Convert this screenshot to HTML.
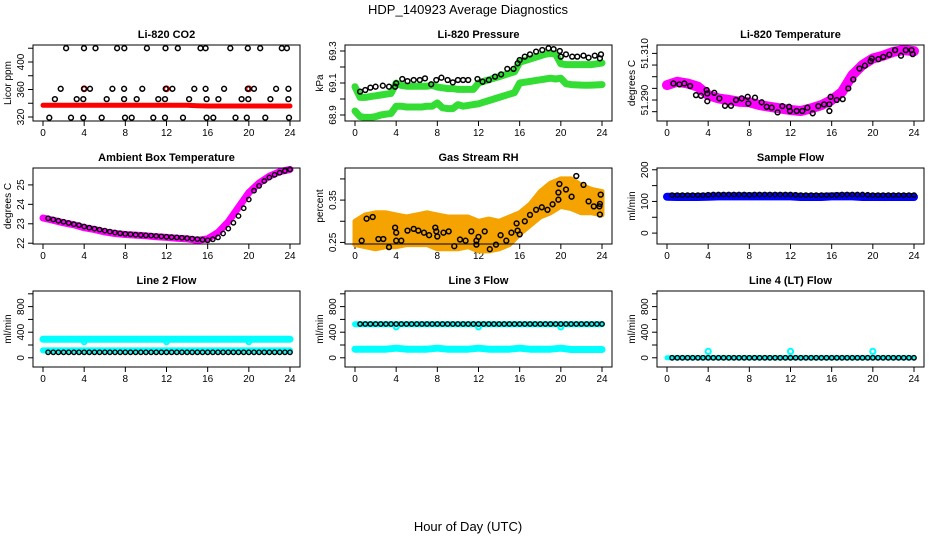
<!DOCTYPE html>
<html><head><meta charset="utf-8">
<style>
html,body{margin:0;padding:0;background:#fff;}
svg{display:block;font-family:"Liberation Sans",Arial,sans-serif;}
</style></head>
<body>
<svg id="chart" width="936" height="540" viewBox="0 0 936 540" xmlns="http://www.w3.org/2000/svg">
<text x="468" y="14" text-anchor="middle" font-size="13">HDP_140923  Average Diagnostics</text>
<text x="468" y="531" text-anchor="middle" font-size="13">Hour of Day (UTC)</text>
</svg>
<script>
// ---------- data ----------
const hourly=[0,1,2,3,4,5,6,7,8,9,10,11,12,13,14,15,16,17,18,19,20,21,22,23,24];
const halfHours=[0,0.5,1,1.5,2,2.5,3,3.5,4,4.5,5,5.5,6,6.5,7,7.5,8,8.5,9,9.5,10,10.5,11,11.5,12,12.5,13,13.5,14,14.5,15,15.5,16,16.5,17,17.5,18,18.5,19,19.5,20,20.5,21,21.5,22,22.5,23,23.5,24];
const meanHours=[0.5,1,1.5,2,2.5,3,3.5,4,4.5,5,5.5,6,6.5,7,7.5,8,8.5,9,9.5,10,10.5,11,11.5,12,12.5,13,13.5,14,14.5,15,15.5,16,16.5,17,17.5,18,18.5,19,19.5,20,20.5,21,21.5,22,22.5,23,23.5,24];
const xTicks=[0,4,8,12,16,20,24];

// CO2
const co2Red=[337,337,337,337,337,337,337,337,337,337,337,337,337,337,337,336.5,336,336,336,336,336,336,336,336,336];
const co2SpikeHours=[4,12,20];
const co2SpikeVals=[361,361,361];
const co2BlkHours=[2.24,3.98,5.1,7.2,7.9,10.1,11.9,13.1,15.3,15.8,18.2,19.9,21.1,23.2,23.7, 1.72,3.98,4.57,6.74,7.88,9.65,11.92,12.57,14.7,15.8,17.6,19.9,20.5,22.65,23.84, 1.16,3.27,3.92,6.19,7.88,9.1,11.2,11.85,14.2,15.9,17.04,19.3,19.95,22.1,23.84, 0.61,2.72,3.92,5.7,7.97,8.62,10.72,11.85,13.6,15.9,16.55,18.7,19.8,21.6,23.9];
const co2BlkVals=[420,420,420,420,420,420,420,420,420,420,420,420,420,420,420, 361,361,361,361,361,361,361,361,361,361,361,361,361,361,361, 346,346,346,346,346,346,346,346,346,346,346,346,346,346,346, 319,319,319,319,319,319,319,319,319,319,319,319,319,319,319];

// Pressure
const presUpper=[69.077,69.01,69.01,69.015,69.02,69.025,69.03,69.035,69.1,69.085,69.08,69.08,69.08,69.08,69.08,69.085,69.075,69.07,69.065,69.065,69.06,69.06,69.06,69.06,69.1,69.11,69.12,69.13,69.14,69.15,69.16,69.17,69.23,69.24,69.25,69.26,69.27,69.28,69.285,69.28,69.22,69.215,69.215,69.215,69.215,69.215,69.215,69.22,69.225];
const presLower=[68.925,68.89,68.885,68.885,68.89,68.9,68.905,68.91,68.955,68.955,68.95,68.95,68.95,68.95,68.955,68.955,68.975,68.945,68.94,68.94,68.965,68.955,68.96,68.965,68.97,68.98,68.99,69.0,69.01,69.02,69.03,69.04,69.1,69.105,69.11,69.115,69.12,69.125,69.13,69.125,69.13,69.095,69.09,69.088,69.087,69.086,69.087,69.088,69.09];
const presBlkHours=[0.5,1,1.5,2,2.7,3.3,3.9,4,4.6,5.1,5.7,6.3,6.8,7.4,7.9,8.4,9,9.5,10,10.5,11,11.9,12.4,13,13.6,14.2,14.8,15.4,15.8,16,16.5,17,17.6,18.2,18.8,19.3,19.9,20,20.5,21.1,21.6,22.2,22.7,23.3,23.8,23.9];
const presBlkVals=[69.046,69.056,69.071,69.077,69.083,69.077,69.077,69.098,69.125,69.112,69.119,69.119,69.129,69.092,69.119,69.133,69.119,69.104,69.119,69.119,69.119,69.125,69.108,69.119,69.14,69.154,69.188,69.188,69.223,69.244,69.265,69.279,69.296,69.306,69.317,69.312,69.3,69.265,69.279,69.265,69.265,69.271,69.258,69.271,69.254,69.279];

// Li-820 temperature
const tempBand=[51.2964,51.2978,51.2971,51.2957,51.2921,51.2907,51.29,51.2893,51.289,51.2878,51.2871,51.2864,51.2857,51.2853,51.2864,51.2878,51.29,51.2935,51.3007,51.305,51.3078,51.309,51.3107,51.3114,51.311];
const tempBlkHours=[0.62,1.2,1.68,2.24,2.82,3.3,3.85,3.92,3.92,4.6,5.09,5.64,6.22,6.7,7.26,7.84,7.9,8.55,9.2,9.69,10.17,10.75,11.2,11.86,11.95,12.6,13.15,13.64,14.16,14.7,15.26,15.78,15.9,15.78,16.49,17.07,17.62,18.1,18.7,19.23,19.78,19.9,20.54,21.02,21.6,22.16,22.74,23.2,23.77,23.87];
const tempBlkVals=[51.2971,51.2967,51.2971,51.296,51.2921,51.2918,51.2943,51.2928,51.2895,51.2931,51.2907,51.2875,51.2875,51.29,51.2907,51.2914,51.2885,51.291,51.289,51.2871,51.2867,51.2847,51.2874,51.2871,51.2853,51.2853,51.2853,51.2867,51.2843,51.2874,51.2881,51.2881,51.2914,51.2853,51.29,51.2904,51.295,51.2988,51.3035,51.3047,51.3067,51.3078,51.3075,51.3085,51.3095,51.3114,51.309,51.3114,51.3114,51.3097];

// Ambient box temperature
const ambBand=[23.3,23.18,23.05,22.95,22.8,22.7,22.58,22.5,22.45,22.42,22.38,22.33,22.3,22.26,22.22,22.15,22.22,22.55,23.1,23.85,24.6,25.1,25.45,25.68,25.8];
const ambMeans=[23.28,23.22,23.16,23.1,23.04,22.98,22.93,22.86,22.8,22.75,22.7,22.65,22.6,22.55,22.51,22.48,22.46,22.44,22.42,22.4,22.39,22.37,22.35,22.33,22.31,22.3,22.28,22.26,22.24,22.21,22.18,22.15,22.2,22.3,22.5,22.75,23.05,23.4,23.8,24.25,24.7,24.95,25.2,25.38,25.52,25.63,25.72,25.8];

// Gas stream RH
const rhUpper=[0.30,0.315,0.32,0.32,0.315,0.31,0.315,0.32,0.315,0.31,0.31,0.31,0.30,0.305,0.30,0.31,0.32,0.34,0.37,0.39,0.40,0.40,0.385,0.375,0.37];
const rhLower=[0.245,0.24,0.235,0.24,0.24,0.245,0.245,0.245,0.235,0.235,0.235,0.24,0.23,0.23,0.235,0.245,0.27,0.29,0.31,0.32,0.335,0.33,0.32,0.32,0.315];
const rhBlkHours=[0.65,1.13,1.72,2.27,2.75,3.3,3.9,4.0,4.0,4.5,5.1,5.7,6.15,6.7,7.2,7.8,7.9,8.0,8.6,9.1,9.65,10.2,10.75,11.3,11.8,11.8,12.0,12.6,13.1,13.7,14.15,14.7,15.2,15.7,15.8,16.0,16.5,17.0,17.6,18.15,18.7,19.2,19.76,19.76,19.86,20.5,21.05,21.5,22.2,22.7,23.2,23.75,23.8,23.87,23.8];
const rhBlkVals=[0.254,0.306,0.31,0.258,0.258,0.239,0.285,0.273,0.254,0.254,0.278,0.282,0.278,0.273,0.267,0.285,0.276,0.264,0.273,0.276,0.241,0.257,0.254,0.276,0.254,0.245,0.263,0.276,0.234,0.245,0.267,0.254,0.273,0.295,0.278,0.269,0.3,0.315,0.327,0.333,0.327,0.34,0.368,0.351,0.388,0.375,0.358,0.407,0.386,0.347,0.335,0.335,0.316,0.363,0.341];

// Sample flow
const sampleBand=[115,114,114,114,115,116,116,116,116,116,116,116,116,114,114,114,116,116,116,114,114,114,114,114,114];
const sampleMeans=[120,120,120,120,120,120,120,121,122,122,122,122,122,122,122,121,122,122,122,122,122,122,122,122,121,120,120,120,120,120,120,120,121,122,122,122,122,122,121,120,120,120,120,120,120,120,120,120];

// Line 2 flow
const l2Upper=[290,290,290,290,290,290,290,290,290,290,290,290,290,290,290,290,290,290,290,290,290,290,290,290,290];
const l2Lower=[115,115,115,115,115,115,115,115,115,115,115,115,115,115,115,115,115,115,115,115,115,115,115,115,115];
const l2DipHours=[4,12,20];
const l2DipVals=[250,250,250];
const l2Means=[86,86,86,86,86,86,86,86,86,86,86,86,86,86,86,86,86,86,86,86,86,86,86,86,86,86,86,86,86,86,86,86,86,86,86,86,86,86,86,86,86,86,86,86,86,86,86,86];

// Line 3 flow
const l3Upper=[525,525,525,525,525,525,525,525,525,525,525,525,525,525,525,525,525,525,525,525,525,525,525,525,525];
const l3Lower=[135,135,135,135,150,135,135,135,150,135,135,135,150,135,135,135,150,135,135,135,150,130,130,130,130];
const l3DipHours=[4,12,20];
const l3DipVals=[480,480,480];
const l3Means=[528,528,528,528,528,528,528,528,528,528,528,528,528,528,528,528,528,528,528,528,528,528,528,528,528,528,528,528,528,528,528,528,528,528,528,528,528,528,528,528,528,528,528,528,528,528,528,528];

// Line 4 flow
const l4Cyan=[0,0,0,0,0,0,0,0,0,0,0,0,0,0,0,0,0,0,0,0,0,0,0,0,0];
const l4SpikeHours=[4,12,20];
const l4SpikeVals=[100,100,100];
const l4Means=[0,0,0,0,0,0,0,0,0,0,0,0,0,0,0,0,0,0,0,0,0,0,0,0,0,0,0,0,0,0,0,0,0,0,0,0,0,0,0,0,0,0,0,0,0,0,0,0];

// ---------- drawing ----------
const NS='http://www.w3.org/2000/svg';
const svg=document.getElementById('chart');
function el(tag,parent,attrs){const e=document.createElementNS(NS,tag);for(const k in attrs)e.setAttribute(k,attrs[k]);parent.appendChild(e);return e;}

function makePanel(col,row,name,title,ylab,dom,yticks,ylabels){
  const g=el('g',svg,{});
  
  
  const left=col*312+33,right=col*312+300,top=45+123*row,bot=121+123*row;
  const xs=h=>col*312+43+h*(247/24);
  const ys=v=>bot-(v-dom[0])/(dom[1]-dom[0])*(bot-top);
  const t=el('text',g,{x:(left+right)/2,y:top-7,'text-anchor':'middle','font-size':'11','font-weight':'bold'});
  t.textContent=title;
  
  
  const yl=el('text',g,{x:0,y:0,'text-anchor':'middle','font-size':'10',transform:`translate(${col*312+11},${(top+bot)/2}) rotate(-90)`});
  yl.textContent=ylab;
  
  
  const ax=el('g',g,{stroke:'#000','stroke-width':'1'});
  
  
  xTicks.forEach(h=>{el('line',ax,{x1:xs(h),x2:xs(h),y1:bot,y2:bot+5});
    const lb=el('text',g,{x:xs(h),y:bot+15,'text-anchor':'middle','font-size':'10'});lb.textContent=h;
    
    });
  yticks.forEach((v,i)=>{el('line',ax,{x1:left-5,x2:left,y1:ys(v),y2:ys(v)});
    if(ylabels[i]){const lb=el('text',g,{x:0,y:0,'text-anchor':'middle','font-size':'10',transform:`translate(${left-9},${ys(v)}) rotate(-90)`});lb.textContent=ylabels[i];
    
    }});
  const data=el('g',g,{});
  
  
  const box=el('rect',g,{x:left,y:top,width:right-left,height:bot-top,fill:'none',stroke:'#000','stroke-width':'1'});
  
  
  return {xs,ys,data};
}
function band(p,hours,vals,color,w,nm){
  const pts=hours.map((h,i)=>p.xs(h).toFixed(1)+','+p.ys(vals[i]).toFixed(1)).join(' ');
  const pl=el('polyline',p.data,{points:pts,fill:'none',stroke:color,'stroke-width':w,'stroke-linejoin':'round','stroke-linecap':'round'});
  
  
}
function area(p,hours,up,lo,color,nm){
  const a=hours.map((h,i)=>p.xs(h).toFixed(1)+','+p.ys(up[i]).toFixed(1));
  const b=hours.map((h,i)=>p.xs(h).toFixed(1)+','+p.ys(lo[i]).toFixed(1)).reverse();
  const pg=el('polygon',p.data,{points:a.concat(b).join(' '),fill:color,stroke:color,'stroke-width':'5','stroke-linejoin':'round'});
  
  
}
function pts(p,hours,vals,color,nm,r,sw){
  hours.forEach((h,i)=>{
    const c=el('circle',p.data,{cx:p.xs(h).toFixed(1),cy:p.ys(vals[i]).toFixed(1),r:r||2.4,fill:'none',stroke:color,'stroke-width':sw||1.5});
    
    
  });
}

// Row 1
let p=makePanel(0,0,'co2','Li-820 CO2','Licor ppm',[314.2,424.7],[320,340,360,380,400,420],['320','','360','','400','']);
band(p,hourly,co2Red,'#ff0000',5,'co2-raw-band');
pts(p,co2SpikeHours,co2SpikeVals,'#ff0000','co2-raw-point',2.4,2);
pts(p,co2BlkHours,co2BlkVals,'#000','co2-mean-point');

p=makePanel(1,0,'pressure','Li-820 Pressure','kPa',[68.8625,69.3375],[68.9,69.0,69.1,69.2,69.3],['68.9','','69.1','','69.3']);
band(p,halfHours,presUpper,'#33dd33',7,'pressure-upper-band');
band(p,halfHours,presLower,'#33dd33',7,'pressure-lower-band');
pts(p,presBlkHours,presBlkVals,'#000','pressure-mean-point');

p=makePanel(2,0,'li820-temp','Li-820 Temperature','degrees C',[51.281,51.3136],[51.285,51.29,51.295,51.3,51.305,51.31],['','51.290','','','','51.310']);
band(p,hourly,tempBand,'#ff00ff',10,'li820-temp-band');
pts(p,tempBlkHours,tempBlkVals,'#000','li820-temp-mean-point');

// Row 2
p=makePanel(0,1,'ambient-temp','Ambient Box Temperature','degrees C',[21.96,25.87],[22,23,24,25],['22','23','24','25']);
band(p,hourly,ambBand,'#ff00ff',7,'ambient-temp-band');
pts(p,meanHours,ambMeans,'#000','ambient-temp-mean-point',2.2,1.4);

p=makePanel(1,1,'rh','Gas Stream RH','percent',[0.2463,0.4258],[0.25,0.30,0.35,0.40],['0.25','','0.35','']);
area(p,hourly,rhUpper,rhLower,'#f5a300','rh-band');
pts(p,rhBlkHours,rhBlkVals,'#000','rh-mean-point');

p=makePanel(2,1,'sample-flow','Sample Flow','ml/min',[-34.4,205.6],[0,50,100,150,200],['0','','100','','200']);
band(p,hourly,sampleBand,'#0000ff',8,'sample-flow-band');
pts(p,meanHours,sampleMeans,'#000','sample-flow-mean-point',2.2,1.4);

// Row 3
const flowDom=[-144,1044],flowTicks=[0,200,400,600,800,1000],flowLabels=['0','','400','','800',''];
p=makePanel(0,2,'line2-flow','Line 2 Flow','ml/min',flowDom,flowTicks,flowLabels);
band(p,hourly,l2Upper,'#00ffff',7,'line2-upper-band');
band(p,hourly,l2Lower,'#00ffff',6,'line2-lower-band');
pts(p,l2DipHours,l2DipVals,'#00ffff','line2-dip-point',2.4,2);
pts(p,meanHours,l2Means,'#000','line2-mean-point',2.2,1.4);

p=makePanel(1,2,'line3-flow','Line 3 Flow','ml/min',flowDom,flowTicks,flowLabels);
band(p,hourly,l3Upper,'#00ffff',6,'line3-upper-band');
band(p,hourly,l3Lower,'#00ffff',7,'line3-lower-band');
pts(p,l3DipHours,l3DipVals,'#00ffff','line3-dip-point',2.4,2);
pts(p,meanHours,l3Means,'#000','line3-mean-point',2.2,1.4);

p=makePanel(2,2,'line4-flow','Line 4 (LT) Flow','ml/min',flowDom,flowTicks,flowLabels);
band(p,hourly,l4Cyan,'#00ffff',5,'line4-band');
pts(p,l4SpikeHours,l4SpikeVals,'#00ffff','line4-spike-point',2.6,2);
pts(p,meanHours,l4Means,'#000','line4-mean-point',2.2,1.4);
</script>
</body></html>
